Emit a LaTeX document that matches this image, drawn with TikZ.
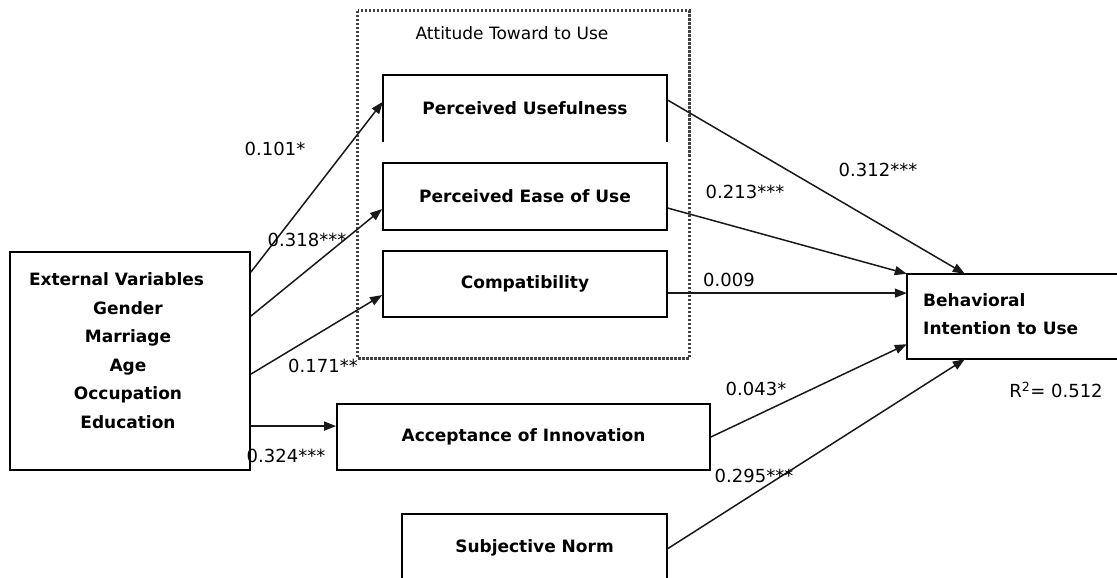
\documentclass[tikz,border=0pt]{standalone}
\usepackage{fontspec}
\setmainfont{DejaVu Sans}
\usetikzlibrary{arrows.meta,calc}
\begin{document}
\begin{tikzpicture}[x=1pt,y=-1pt,
  box/.style={draw, line width=1.8pt, inner sep=0pt, font=\fontsize{17}{20}\selectfont\bfseries},
  openbox/.style={inner sep=0pt, font=\fontsize{17}{20}\selectfont\bfseries},
  edge/.style={line width=1.8pt},
  attframe/.style={line width=3pt, dash pattern=on 2.5pt off 1.5pt, black!75},
  num/.style={font=\fontsize{18}{20}\selectfont, inner sep=0pt},
  conn/.style={line width=1.5pt, black!90, -{Triangle[length=12pt,width=9pt]}},
]
\useasboundingbox (0,0) rectangle (1117,578);

% dotted frame
\node[inner sep=0pt, minimum width=331pt, minimum height=347pt] (att) at (523.5,184.5) {};
\draw[attframe] (att.north west) rectangle (att.south east);
\node[font=\fontsize{17}{20}\selectfont, inner sep=0pt] (attlabel) at (512,33) {Attitude Toward to Use};

% boxes
\node[box, minimum width=240pt, minimum height=218pt] (ev) at (130,361) {};
\node[font=\fontsize{17}{20}\selectfont\bfseries, inner sep=0pt] (evtitle) at (116.5,279) {External Variables};
\node[font=\fontsize{17}{28.6}\selectfont\bfseries, align=center, inner sep=0pt] (evlist) at (128,365)
  {Gender\\Marriage\\Age\\Occupation\\Education};

\node[openbox, minimum width=284pt, minimum height=67pt] (pu) at (525,108.5) {Perceived Usefulness};
\draw[edge] (pu.south west) -- (pu.north west) -- (pu.north east) -- (pu.south east);

\node[box, minimum width=284pt, minimum height=67pt] (peu) at (525,196.5) {Perceived Ease of Use};
\node[box, minimum width=284pt, minimum height=66pt] (comp) at (525,284) {Compatibility};
\node[box, minimum width=373pt, minimum height=66pt] (ai) at (523.5,437) {Acceptance of Innovation};

\node[openbox, minimum width=265pt, minimum height=70pt] (sn) at (534.5,549) {};
\node[font=\fontsize{17}{20}\selectfont\bfseries, inner sep=0pt] (sntext) at (534.5,548) {Subjective Norm};
\draw[edge] (sn.south west) -- (sn.north west) -- (sn.north east) -- (sn.south east);

\node[openbox, minimum width=212pt, minimum height=85pt] (bi) at (1013,316.5) {};
\draw[edge] (bi.north east) -- (bi.north west) -- (bi.south west) -- (bi.south east);
\node[font=\fontsize{17}{28}\selectfont\bfseries, align=left, anchor=west, inner sep=0pt] (bitext) at (923,314)
  {Behavioral\\Intention to Use};

% connectors
\draw[conn] ($(ev.north east)+(0,21)$) -- ($(pu.north west)+(0,27)$);
\draw[conn] ($(ev.north east)+(0,65)$) -- ($(peu.north west)+(0,47)$);
\draw[conn] ($(ev.north east)+(0,123)$) -- ($(comp.north west)+(0,45)$);
\coordinate (a0) at ($(ev.north east)+(0,175)$);
\draw[conn] (a0) -- (a0 -| ai.west);

\draw[conn] ($(pu.north east)+(0,25)$) -- ($(bi.north west)+(58,0)$);
\draw[conn] ($(peu.north east)+(0,46)$) -- (bi.north west);
\coordinate (c0) at ($(comp.north east)+(0,43)$);
\draw[conn] (c0) -- (c0 -| bi.west);
\draw[conn] (ai.east) -- ($(bi.south west)+(0,-15)$);
\draw[conn] (sn.east) -- ($(bi.south west)+(58,0)$);

% labels
\node[num] (l1) at (275,149) {0.101*};
\node[num] (l2) at (307,240) {0.318***};
\node[num] (l3) at (323,366) {0.171**};
\node[num] (l4) at (286,456) {0.324***};
\node[num] (l5) at (878,170) {0.312***};
\node[num] (l6) at (745,192) {0.213***};
\node[num] (l7) at (729,280) {0.009};
\node[num] (l8) at (756,389) {0.043*};
\node[num] (l9) at (754,476) {0.295***};
\node[num] (r2) at (1056,390) {R\textsuperscript{2}= 0.512};
\end{tikzpicture}
\end{document}
